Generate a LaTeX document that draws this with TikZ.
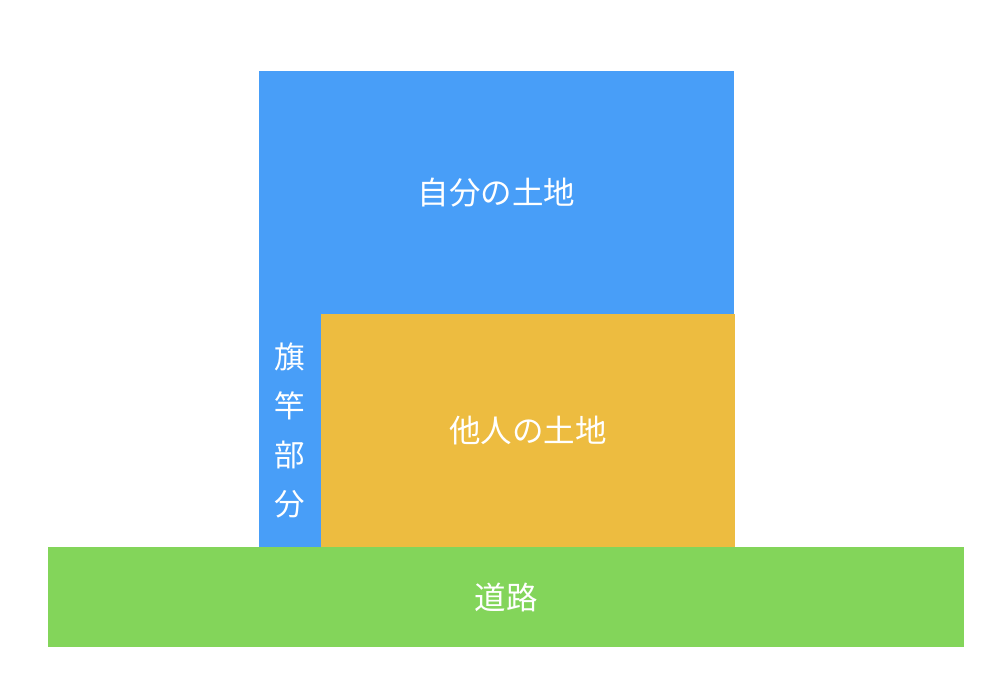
\documentclass[tikz,border=0pt]{standalone}
\usepackage{fontspec}
\setmainfont{Noto Sans CJK JP}
\definecolor{landblue}{RGB}{72,158,248}
\definecolor{landyellow}{RGB}{237,188,64}
\definecolor{roadgreen}{RGB}{131,213,90}
\tikzset{
  plot/.style={anchor=north west, inner sep=0pt, outer sep=0pt, text=white,
    font=\fontsize{31.5}{38}\selectfont},
}
\begin{document}
\begin{tikzpicture}[x=1pt,y=-1pt]
\useasboundingbox (0,0) rectangle (1008,694);
\node[plot, fill=landblue, minimum width=475pt, minimum height=243pt] (own) at (259,71) {自分の土地};
\node[plot, fill=landblue, minimum width=62pt, minimum height=233pt] (pole) at (259,314) {};
\node[text=white, align=center, inner sep=0pt, font=\fontsize{30.5}{49}\selectfont] (poletext) at (pole.center) {旗\\竿\\部\\分};
\node[plot, fill=landyellow, minimum width=414pt, minimum height=233pt] (other) at (321,314) {他人の土地};
\node[plot, fill=roadgreen, minimum width=916pt, minimum height=100pt] (road) at (48,547) {道路};
\end{tikzpicture}
\end{document}
